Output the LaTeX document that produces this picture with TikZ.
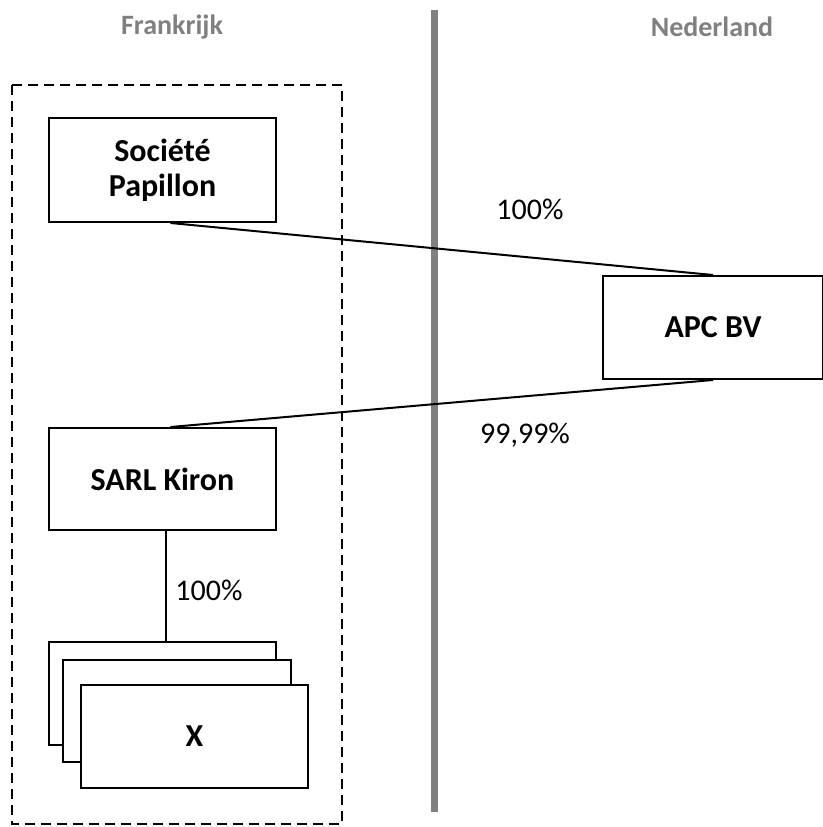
\documentclass[tikz,border=0pt]{standalone}
\usepackage{fontspec}
\setmainfont{Carlito}
\definecolor{bordergrey}{HTML}{808080}
\tikzset{
  entity/.style={draw=black, line width=2pt, fill=white, inner sep=0pt,
    align=center, font=\fontsize{32}{38}\selectfont\bfseries},
  share/.style={font=\fontsize{30}{36}\selectfont, inner sep=0pt},
  country/.style={font=\fontsize{28}{33}\selectfont\bfseries, text=bordergrey, inner sep=0pt},
  link/.style={line width=2pt, draw=black},
  region/.style={draw=black, line width=2.2pt, dash pattern=on 10pt off 6pt},
  border/.style={draw=bordergrey, line width=7pt}
}
\begin{document}
\begin{tikzpicture}[x=1pt, y=-1pt]
  \useasboundingbox (0,0) rectangle (822,827);

  % country headings and the border between them
  \node[country] (fr) at (172,27) {Frankrijk};
  \node[country] (nl) at (712,27) {Nederland};
  \draw[border] (434,10) -- (434,812);

  % French group
  \draw[region] (12,85) rectangle (342,824);

  \node[entity, minimum width=227pt, minimum height=104pt] (pap) at (162.5,170) {Société\\[-3pt]Papillon};
  \node[entity, minimum width=227pt, minimum height=102pt] (kir) at (162.5,479) {SARL Kiron};

  % stacked subsidiaries
  \node[entity, minimum width=227pt, minimum height=103pt] (x1) at (162.5,693.5) {};
  \node[entity, minimum width=228pt, minimum height=102pt] (x2) at (177,711) {};
  \node[entity, minimum width=227pt, minimum height=103pt] (x3) at (194.5,736.5) {X};

  % Dutch holding
  \node[entity, minimum width=220pt, minimum height=103pt] (apc) at (713,327.5) {APC BV};

  % shareholdings
  \draw[link] ([xshift=8pt]pap.south) -- (apc.north);
  \draw[link] (apc.south) -- ([xshift=8pt]kir.north);
  \draw[link] ([xshift=3.5pt]kir.south) -- ([xshift=3.5pt]x1.north);

  \node[share] (p1) at (530,209) {100\%};
  \node[share] (p2) at (525,435) {99,99\%};
  \node[share] (p3) at (209,590) {100\%};
\end{tikzpicture}
\end{document}
